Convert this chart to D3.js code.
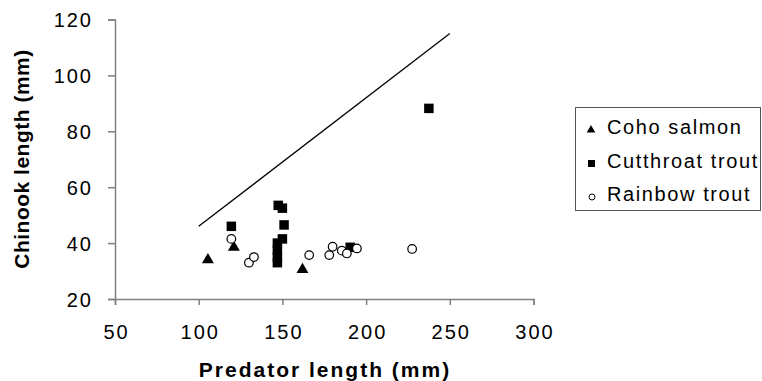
<!DOCTYPE html>
<html>
<head>
<meta charset="utf-8">
<script src="https://cdn.jsdelivr.net/npm/d3@7"></script>
<style>
  body { margin: 0; background: #fff; }
  text { font-family: "Liberation Sans", Arial, sans-serif; }
</style>
</head>
<body>
<svg id="chart" width="762" height="381"></svg>
<script>
// data
const cohoX = [105.5, 121, 162];
const cohoY = [34, 38.5, 30.5];

const cutthroatX = [119.5, 147.5, 150, 151, 150, 147, 147, 147, 147, 190.5, 237.5];
const cutthroatY = [46, 53.5, 52.5, 46.5, 41.5, 40, 37.5, 35, 33, 38.5, 88.2];

const rainbowX = [119.5, 130, 133, 166, 178, 180, 185.5, 188.5, 194.5, 227.5];
const rainbowY = [41.5, 33, 35, 35.7, 35.7, 38.7, 37.3, 36.3, 38.1, 37.9];

// reference line
const lineX = [100, 250];
const lineY = [46, 115];

const xTicks = [50, 100, 150, 200, 250, 300];
const yTicks = [20, 40, 60, 80, 100, 120];
const legendLabels = ['Coho salmon', 'Cutthroat trout', 'Rainbow trout'];

const AXIS_COLOR = '#808080';
const FONT_SIZE = 20;

const svg = d3.select('#chart');

const x = d3.scaleLinear().domain([50, 300]).range([115, 533.5]);
const y = d3.scaleLinear().domain([20, 120]).range([299, 19.5]);

const zip = (xs, ys) => xs.map((v, i) => ({ x: v, y: ys[i] }));

// AXES
const axisX = d3.axisBottom(x).tickValues(xTicks).tickSizeOuter(0).tickSize(6);
const gx = svg.append('g').attr('transform', `translate(0,${y(20)})`).call(axisX);

const axisY = d3.axisLeft(y).tickValues(yTicks).tickSizeOuter(0).tickSize(7);
const gy = svg.append('g').attr('transform', `translate(${x(50)},0)`).call(axisY);

[gx, gy].forEach(g => {
  g.select('.domain').attr('stroke', AXIS_COLOR).attr('stroke-width', 1.5);
  g.selectAll('.tick line').attr('stroke', AXIS_COLOR).attr('stroke-width', 1.5);
  g.selectAll('.tick text')
    .attr('fill', '#000')
    .style('font-size', FONT_SIZE + 'px')
    .style('letter-spacing', '2px');
});

gx.selectAll('.tick text').attr('y', 40).attr('dy', 0).attr('x', 1);
gy.selectAll('.tick text').attr('x', -22).attr('dy', '0.35em');

// TITLES
svg.append('text')
  .attr('x', 325)
  .attr('y', 377)
  .attr('text-anchor', 'middle')
  .style('font-size', '21px')
  .style('font-weight', 'bold')
  .style('letter-spacing', '2px')
  .text('Predator length (mm)');

svg.append('text')
  .attr('transform', 'translate(29,159) rotate(-90)')
  .attr('text-anchor', 'middle')
  .style('font-size', '21px')
  .style('font-weight', 'bold')
  .style('letter-spacing', '0.5px')
  .text('Chinook length (mm)');

// LINE
svg.append('path')
  .datum(zip(lineX, lineY))
  .attr('fill', 'none')
  .attr('stroke', '#000')
  .attr('stroke-width', 1.3)
  .attr('d', d3.line().x(d => x(d.x)).y(d => y(d.y)));

// POINTS
const tri = d3.symbol().type(d3.symbolTriangle).size(62);
const sq = d3.symbol().type(d3.symbolSquare).size(90);

svg.append('g').selectAll('path')
  .data(zip(cohoX, cohoY))
  .join('path')
  .attr('d', tri)
  .attr('transform', d => `translate(${x(d.x)},${y(d.y)})`)
  .attr('fill', '#000');

svg.append('g').selectAll('path')
  .data(zip(cutthroatX, cutthroatY))
  .join('path')
  .attr('d', sq)
  .attr('transform', d => `translate(${x(d.x)},${y(d.y)})`)
  .attr('fill', '#000');

svg.append('g').selectAll('circle')
  .data(zip(rainbowX, rainbowY))
  .join('circle')
  .attr('cx', d => x(d.x))
  .attr('cy', d => y(d.y))
  .attr('r', 4.3)
  .attr('fill', '#fff')
  .attr('stroke', '#000')
  .attr('stroke-width', 1.2);

// LEGEND
const $legend = svg.append('g').attr('transform', 'translate(575,107)');
$legend.append('rect')
  .attr('x', 0.5).attr('y', 0.5)
  .attr('width', 185).attr('height', 103)
  .attr('fill', '#fff')
  .attr('stroke', '#555');

const $item = $legend.selectAll('g.item')
  .data(legendLabels)
  .join('g')
  .attr('class', 'item')
  .attr('transform', (d, i) => `translate(0,${27 + i * 33.5})`);

$item.append('text')
  .attr('x', 32)
  .attr('y', 0)
  .style('font-size', FONT_SIZE + 'px')
  .style('letter-spacing', '1.6px')
  .text(d => d);

$item.filter((d, i) => i === 0).append('path')
  .attr('d', d3.symbol().type(d3.symbolTriangle).size(32))
  .attr('transform', 'translate(16,-4)');
$item.filter((d, i) => i === 1).append('path')
  .attr('d', d3.symbol().type(d3.symbolSquare).size(49))
  .attr('transform', 'translate(16.5,-4)');
$item.filter((d, i) => i === 2).append('circle')
  .attr('cx', 17).attr('cy', -4).attr('r', 3)
  .attr('fill', '#fff').attr('stroke', '#000');
</script>
</body>
</html>
